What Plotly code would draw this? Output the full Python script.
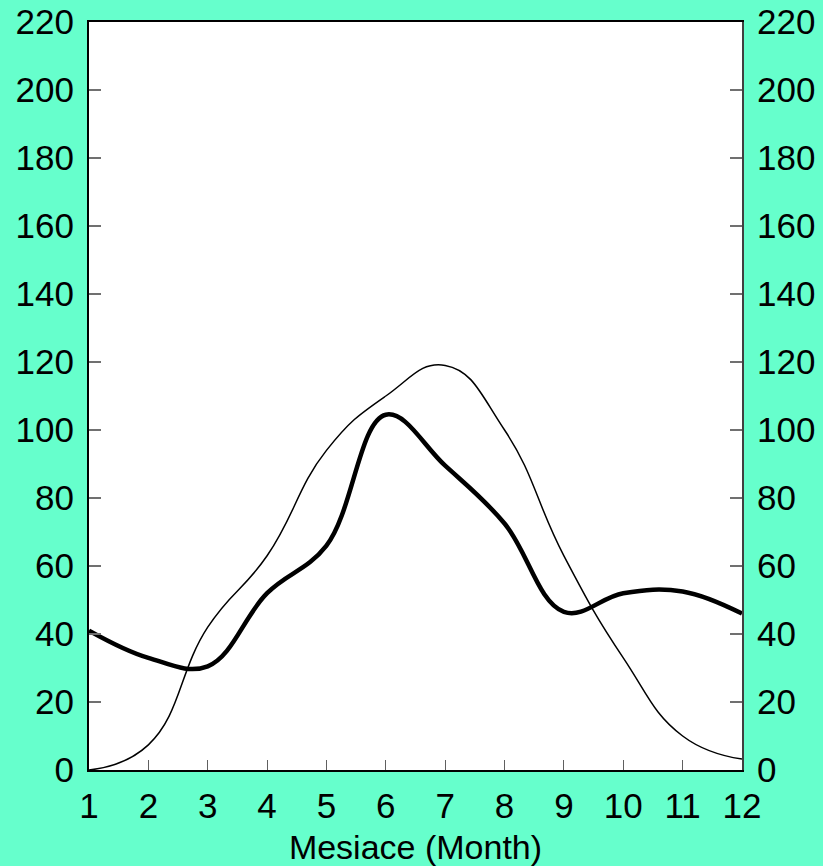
import plotly.graph_objects as go

months = [1, 2, 3, 4, 5, 6, 7, 8, 9, 10, 11, 12]
thick_series = [41, 33, 30.5, 52, 66, 104.5, 89.5, 72.5, 46.5, 52, 52.5, 46]
thin_series = [0, 7.4, 42, 63, 94, 110, 119, 100, 63, 33, 10, 3.2]
y_ticks = [0, 20, 40, 60, 80, 100, 120, 140, 160, 180, 200, 220]
x_title = "Mesiace (Month)"

tick_font = dict(family="Liberation Sans, Arial, sans-serif", size=35, color="black")
title_font = dict(family="Liberation Sans, Arial, sans-serif", size=34, color="black")

fig = go.Figure()
fig.add_trace(go.Scatter(x=months, y=thin_series, mode="lines",
                         line=dict(color="black", width=1.5, shape="spline", smoothing=1.3),
                         showlegend=False, hoverinfo="skip"))
fig.add_trace(go.Scatter(x=months, y=thick_series, mode="lines",
                         line=dict(color="black", width=4.5, shape="spline", smoothing=1.1),
                         showlegend=False, hoverinfo="skip"))
# invisible trace to activate right axis
fig.add_trace(go.Scatter(x=[months[0]], y=[0], yaxis="y2", mode="markers",
                         marker=dict(opacity=0), showlegend=False, hoverinfo="skip"))

fig.update_layout(
    width=823, height=866,
    margin=dict(l=89, r=81, t=22, b=96),
    paper_bgcolor="#66FFCC",
    plot_bgcolor="white",
    font=tick_font,
    xaxis=dict(range=[1, 12], tickvals=months, ticks="inside", ticklen=10, tickwidth=1,
               tickcolor="#606060", showline=True, linecolor="black", linewidth=2,
               mirror=True, showgrid=False, zeroline=False, tickfont=tick_font,
               automargin=False, ticklabelstandoff=4,
               title=dict(text=x_title, font=title_font, standoff=16)),
    yaxis=dict(range=[0, 220], tickvals=y_ticks, ticks="inside", ticklen=12, tickwidth=2,
               tickcolor="#707070", showline=True, linecolor="black", linewidth=2,
               showgrid=False, zeroline=False, tickfont=tick_font,
               automargin=False, ticklabelstandoff=6),
    yaxis2=dict(range=[0, 220], tickvals=y_ticks, ticks="inside", ticklen=12, tickwidth=2,
                tickcolor="#707070", showline=True, linecolor="#404040", linewidth=2,
                overlaying="y", side="right", showgrid=False, zeroline=False,
                tickfont=tick_font, automargin=False, ticklabelstandoff=6),
)

fig.write_html("out.html")
